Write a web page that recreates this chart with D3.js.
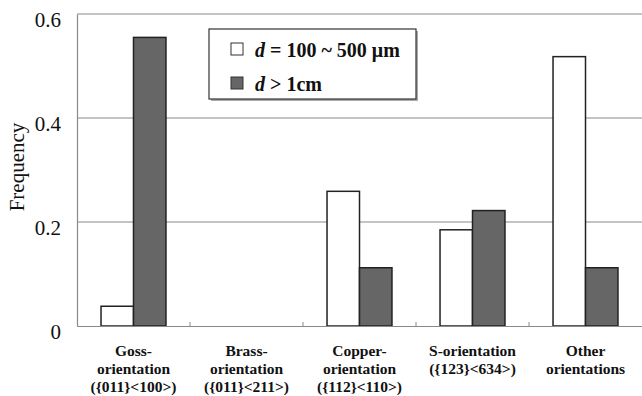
<!DOCTYPE html>
<html><head><meta charset="utf-8">
<script src="https://cdn.jsdelivr.net/npm/d3@7/dist/d3.min.js"></script>
<style>body{margin:0;background:#fff}svg{display:block}</style>
</head><body>
<svg id="c" width="642" height="396"></svg>
<script>
const categories = [
  ["Goss-","orientation","({011}<100>)"],
  ["Brass-","orientation","({011}<211>)"],
  ["Copper-","orientation","({112}<110>)"],
  ["S-orientation","({123}<634>)"],
  ["Other","orientations"]
];
const seriesNames = ["small","large"];
const smallGrain = [0.038, 0, 0.259, 0.185, 0.518];
const largeGrain = [0.555, 0, 0.112, 0.222, 0.112];
const yTicks = [0, 0.2, 0.4, 0.6];
const yTickLabels = ["0","0.2","0.4","0.6"];

const svg = d3.select("#c");
const L = 77, R = 642, T = 14, B = 326;
const x = d3.scaleBand().domain(d3.range(categories.length)).range([L, R]).paddingInner(0).paddingOuter(0);
const xs = d3.scaleBand().domain(seriesNames).range([0, x.bandwidth()]).paddingInner(0).paddingOuter(0.74);
const y = d3.scaleLinear().domain([0, 0.6]).range([B, T]);
const fills = {small:"#ffffff", large:"#666666"};

// gridlines
svg.append("g").selectAll("line").data(yTicks.filter(d=>d>0)).join("line")
  .attr("x1", L).attr("x2", R).attr("y1", d=>y(d)).attr("y2", d=>y(d))
  .attr("stroke", "#8a8a8a").attr("stroke-width", 1.2);

// y-axis
const yAxis = d3.axisLeft(y).tickValues(yTicks).tickFormat((d,i)=>yTickLabels[i]).tickSize(0).tickPadding(16);
const ga = svg.append("g").attr("transform", `translate(${L},0)`).call(yAxis);
ga.select(".domain").attr("stroke", "#8a8a8a").attr("stroke-width", 1.2);
ga.selectAll("text").attr("font-family", "Liberation Serif").attr("font-size", 21).attr("fill", "#111").attr("dy", "0.6em");

// bars
const data = [];
categories.forEach((c,i)=>{
  data.push({i, s:"small", v:smallGrain[i]});
  data.push({i, s:"large", v:largeGrain[i]});
});
svg.append("g").selectAll("rect").data(data.filter(d=>d.v>0)).join("rect")
  .attr("x", d=>x(d.i)+xs(d.s)).attr("width", xs.bandwidth())
  .attr("y", d=>y(d.v)).attr("height", d=>y(0)-y(d.v))
  .attr("fill", d=>fills[d.s]).attr("stroke", "#222").attr("stroke-width", 1.5);

// x-axis
const xAxis = d3.axisBottom(x).tickValues([]).tickSize(0).tickSizeOuter(0);
const gx = svg.append("g").attr("transform", `translate(0,${B})`).call(xAxis);
gx.select(".domain").attr("stroke", "#8a8a8a").attr("stroke-width", 1.2);
// inner tick marks at category boundaries
svg.append("g").selectAll("line").data(d3.range(1, categories.length)).join("line")
  .attr("x1", d=>x(d)).attr("x2", d=>x(d)).attr("y1", B-4).attr("y2", B)
  .attr("stroke", "#8a8a8a").attr("stroke-width", 1);

// category labels (one text per line)
const lineH = 18;
categories.forEach((lines,i)=>{
  lines.forEach((line,k)=>{
    svg.append("text")
      .attr("x", x(i)+x.bandwidth()/2).attr("y", 356 + k*lineH)
      .attr("text-anchor", "middle").attr("font-family", "Liberation Serif")
      .attr("font-weight", "bold").attr("font-size", 15.5).attr("fill", "#111")
      .text(line);
  });
});

// y label
svg.append("text").attr("transform", "translate(24,167) rotate(-90)")
  .attr("text-anchor", "middle").attr("font-family", "Liberation Serif")
  .attr("font-size", 21).attr("fill", "#111").text("Frequency");

// legend
const lg = svg.append("g");
lg.append("rect").attr("x", 211).attr("y", 31).attr("width", 207).attr("height", 70).attr("fill", "#aaa");
lg.append("rect").attr("x", 209).attr("y", 29).attr("width", 207).attr("height", 70)
  .attr("fill", "#fff").attr("stroke", "#333").attr("stroke-width", 1.2);
const legendItems = [
  {s:"small", parts:[["d", true], [" = 100 ~ 500 μm", false]]},
  {s:"large", parts:[["d", true], [" > 1cm", false]]}
];
legendItems.forEach((it,k)=>{
  const yy = 43 + k*34;
  lg.append("rect").attr("x", 231).attr("y", yy).attr("width", 12).attr("height", 12)
    .attr("fill", fills[it.s]).attr("stroke", "#333").attr("stroke-width", 1);
  const t = lg.append("text").attr("x", 255).attr("y", yy+13.5)
    .attr("font-family", "Liberation Serif").attr("font-weight", "bold").attr("font-size", 20).attr("fill", "#111");
  it.parts.forEach(p=>{
    t.append("tspan").attr("font-style", p[1]?"italic":"normal").text(p[0]);
  });
});
</script>
</body></html>
